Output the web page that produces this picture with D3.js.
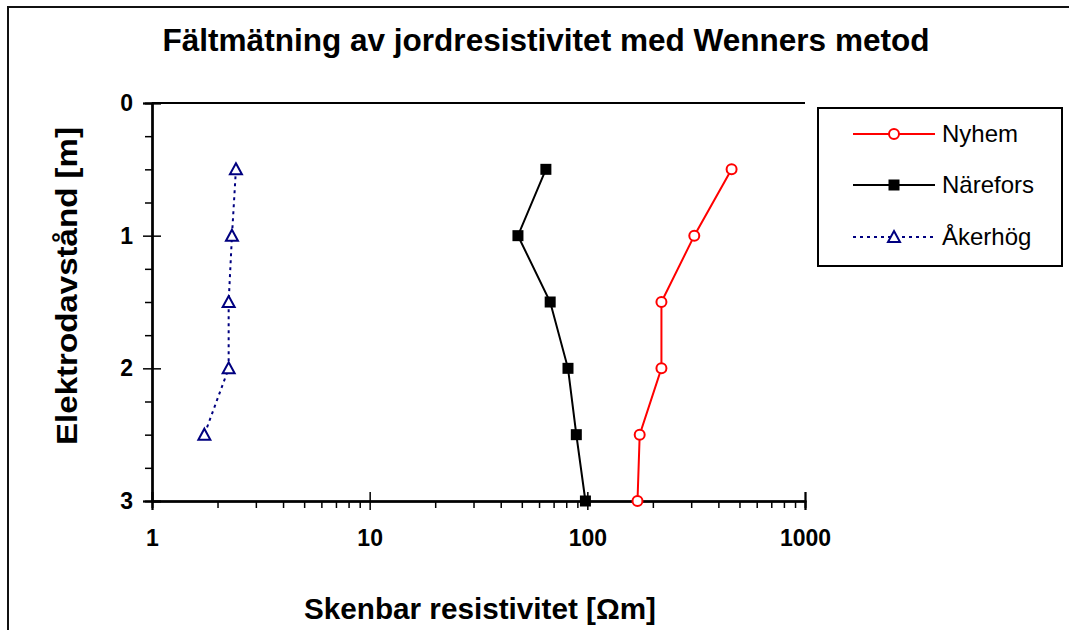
<!DOCTYPE html>
<html>
<head>
<meta charset="utf-8">
<script src="https://cdn.jsdelivr.net/npm/d3@7"></script>
<style>
  html, body { margin: 0; padding: 0; background: #fff; }
  svg { display: block; font-family: Arial, "Liberation Sans", sans-serif; }
</style>
</head>
<body>
<svg id="chart" width="1069" height="630"></svg>
<script>
// Electrode spacing [m] for each measurement
const depthsFull = [0.5, 1, 1.5, 2, 2.5, 3];
const depthsAkerhog = [0.5, 1, 1.5, 2, 2.5];

// Apparent resistivity [Ωm]
const nyhem    = [460, 310, 219, 219, 174, 170];
const narefors = [64.5, 48, 67.5, 81.5, 89, 98];
const akerhog  = [2.43, 2.33, 2.25, 2.25, 1.74];

const xMajorTicks = [1, 10, 100, 1000];
const xMinorTicks = [2,3,4,5,6,7,8,9,20,30,40,50,60,70,80,90,200,300,400,500,600,700,800,900];
const yMajorTicks = [0, 1, 2, 3];
const yMinorTicks = [0.25, 0.5, 0.75, 1.25, 1.5, 1.75, 2.25, 2.5, 2.75];

const seriesNames = ["Nyhem", "Närefors", "Åkerhög"];

const svg = d3.select("#chart");

// outer frame of the chart area
svg.append("path")
  .attr("d", "M8,630 L8,7 L1069,7")
  .attr("fill", "none").attr("stroke", "#111").attr("stroke-width", 2);

const x = d3.scaleLog().domain([1, 1000]).range([152, 805]);
const y = d3.scaleLinear().domain([0, 3]).range([103, 501]);

// title
svg.append("text")
  .attr("x", 546).attr("y", 51)
  .attr("text-anchor", "middle")
  .attr("font-size", 31).attr("font-weight", "bold")
  .attr("textLength", 767).attr("lengthAdjust", "spacingAndGlyphs")
  .text("Fältmätning av jordresistivitet med Wenners metod");

// ---- axes ----
const axisStyle = g => {
  g.selectAll(".domain").attr("stroke", "#000").attr("stroke-width", 2);
  g.selectAll(".tick line").attr("stroke", "#000").attr("stroke-width", 1.5);
  g.selectAll(".tick text").attr("font-size", 23).attr("font-weight", "bold")
    .attr("fill", "#000").attr("font-family", "Arial, 'Liberation Sans', sans-serif");
};

// x axis (at bottom of plot, y = 3)
const xa = svg.append("g").attr("transform", `translate(0,${y(3)})`);
xa.append("g").call(d3.axisBottom(x).tickValues(xMinorTicks).tickSize(7).tickFormat(""))
  .call(axisStyle);
xa.append("g").call(d3.axisTop(x).tickValues(xMajorTicks).tickSize(9).tickFormat(""))
  .call(axisStyle);
xa.append("g").call(d3.axisBottom(x).tickValues(xMajorTicks).tickSize(9).tickPadding(20)
    .tickFormat(d3.format("d")))
  .call(axisStyle);

// y axis (at left of plot, x = 1)
const ya = svg.append("g").attr("transform", `translate(${x(1)},0)`);
ya.append("g").call(d3.axisLeft(y).tickValues(yMinorTicks).tickSize(7).tickFormat(""))
  .call(axisStyle);
ya.append("g").call(d3.axisRight(y).tickValues(yMajorTicks).tickSize(9).tickFormat(""))
  .call(axisStyle);
ya.append("g").call(d3.axisLeft(y).tickValues(yMajorTicks).tickSize(9).tickPadding(10)
    .tickFormat(d3.format("d")))
  .call(axisStyle);

// top line of the plot (depth 0)
svg.append("line")
  .attr("x1", x(1)).attr("x2", x(1000))
  .attr("y1", y(0)).attr("y2", y(0))
  .attr("stroke", "#000").attr("stroke-width", 2);

// axis titles
svg.append("text")
  .attr("x", 480).attr("y", 619)
  .attr("text-anchor", "middle")
  .attr("font-size", 29).attr("font-weight", "bold")
  .attr("textLength", 352).attr("lengthAdjust", "spacingAndGlyphs")
  .text("Skenbar resistivitet [Ωm]");

svg.append("text")
  .attr("transform", "translate(77,286) rotate(-90)")
  .attr("text-anchor", "middle")
  .attr("font-size", 29).attr("font-weight", "bold")
  .attr("textLength", 318).attr("lengthAdjust", "spacingAndGlyphs")
  .text("Elektrodavstånd [m]");

// ---- series ----
const line = d3.line().x(d => x(d[0])).y(d => y(d[1]));

const series = [
  { name: seriesNames[0], data: d3.zip(nyhem, depthsFull), color: "#ff0000", dash: null, marker: "circle" },
  { name: seriesNames[1], data: d3.zip(narefors, depthsFull), color: "#000000", dash: null, marker: "square" },
  { name: seriesNames[2], data: d3.zip(akerhog, depthsAkerhog), color: "#000080", dash: "3,4", marker: "triangle" }
];

function drawMarker(g, type, color, cx, cy) {
  if (type === "circle") {
    g.append("circle").attr("cx", cx).attr("cy", cy).attr("r", 5)
      .attr("fill", "#fff").attr("stroke", color).attr("stroke-width", 2);
  } else if (type === "square") {
    g.append("rect").attr("x", cx - 5.5).attr("y", cy - 5.5)
      .attr("width", 11).attr("height", 11).attr("fill", color);
  } else {
    g.append("path")
      .attr("d", `M${cx},${cy - 6} L${cx + 6},${cy + 5} L${cx - 6},${cy + 5} Z`)
      .attr("fill", "#fff").attr("stroke", color).attr("stroke-width", 2);
  }
}

const plot = svg.append("g");
series.forEach(s => {
  plot.append("path")
    .attr("d", line(s.data))
    .attr("fill", "none").attr("stroke", s.color).attr("stroke-width", 2)
    .attr("stroke-dasharray", s.dash);
  s.data.forEach(d => drawMarker(plot, s.marker, s.color, x(d[0]), y(d[1])));
});

// ---- legend ----
const lg = svg.append("g");
lg.append("rect").attr("x", 818).attr("y", 108).attr("width", 244).attr("height", 158)
  .attr("fill", "#fff").attr("stroke", "#000").attr("stroke-width", 2);
const rowY = [134, 185, 237];
series.forEach((s, i) => {
  lg.append("line").attr("x1", 853).attr("x2", 935).attr("y1", rowY[i]).attr("y2", rowY[i])
    .attr("stroke", s.color).attr("stroke-width", 2).attr("stroke-dasharray", s.dash);
  drawMarker(lg, s.marker, s.color, 894, rowY[i]);
  lg.append("text").attr("x", 942).attr("y", rowY[i] + 8)
    .attr("font-size", 24).text(s.name);
});
</script>
</body>
</html>
